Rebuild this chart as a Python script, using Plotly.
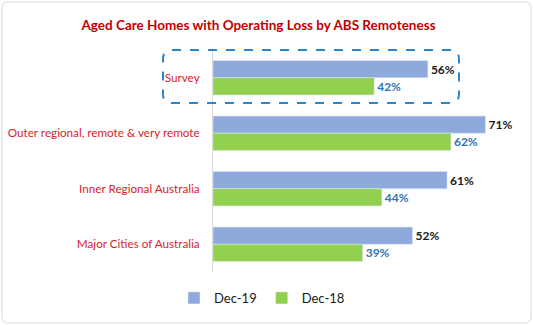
import plotly.graph_objects as go

categories = ["Survey", "Outer regional, remote & very remote", "Inner Regional Australia", "Major Cities of Australia"]
dec19 = [56, 71, 61, 52]
dec18 = [42, 62, 44, 39]
series_names = ["Dec-19", "Dec-18"]

FONT = "Lato"
L, R, T, B = 213, 13, 50, 53
W, H = 533, 325
pw, ph = W - L - R, H - T - B

def px_x(p):
    return (p - L) / pw

def px_y(p):
    return (H - B - p) / ph

fig = go.Figure()
fig.add_trace(go.Bar(
    y=categories, x=dec19, name=series_names[0], orientation="h",
    marker=dict(color="#8EA9DB"),
    texttemplate="<b>%{x}%</b>", textposition="outside",
    textfont=dict(color="#1a1a1a", size=12, family=FONT), cliponaxis=False,
))
fig.add_trace(go.Bar(
    y=categories, x=dec18, name=series_names[1], orientation="h",
    marker=dict(color="#92D050"),
    texttemplate="<b>%{x}%</b>", textposition="outside",
    textfont=dict(color="#2E75B6", size=12, family=FONT), cliponaxis=False,
))

# dashed rounded box around Survey
x0, x1 = px_x(163), px_x(459)
y0, y1 = px_y(103), px_y(50)
rx, ry = 9 / pw, 9 / ph
path = (f"M {x0+rx},{y1} L {x1-rx},{y1} Q {x1},{y1} {x1},{y1-ry} "
        f"L {x1},{y0+ry} Q {x1},{y0} {x1-rx},{y0} L {x0+rx},{y0} "
        f"Q {x0},{y0} {x0},{y0+ry} L {x0},{y1-ry} Q {x0},{y1} {x0+rx},{y1} Z")
fig.add_shape(type="path", path=path, xref="paper", yref="paper",
              line=dict(color="#2E86C8", width=2, dash="dash"))

# outer border
bx0, bx1 = px_x(2), px_x(W - 2)
by0, by1 = px_y(H - 2), px_y(2)
rx2, ry2 = 6 / pw, 6 / ph
path2 = (f"M {bx0+rx2},{by1} L {bx1-rx2},{by1} Q {bx1},{by1} {bx1},{by1-ry2} "
         f"L {bx1},{by0+ry2} Q {bx1},{by0} {bx1-rx2},{by0} L {bx0+rx2},{by0} "
         f"Q {bx0},{by0} {bx0},{by0+ry2} L {bx0},{by1-ry2} Q {bx0},{by1} {bx0+rx2},{by1} Z")
fig.add_shape(type="path", path=path2, xref="paper", yref="paper",
              line=dict(color="#D9D9D9", width=1))

fig.update_layout(
    width=W, height=H,
    margin=dict(l=L, r=R, t=T, b=B, autoexpand=False),
    paper_bgcolor="white", plot_bgcolor="white",
    barmode="group", bargap=0.38, bargroupgap=0.0,
    title=dict(text="<b>Aged Care Homes with Operating Loss by ABS Remoteness</b>",
               x=0.485, xanchor="center", y=1 - 25 / H, yanchor="middle",
               font=dict(family=FONT, size=13.5, color="#C00000")),
    xaxis=dict(range=[0, 80], visible=False, showgrid=False, automargin=False),
    yaxis=dict(autorange="reversed", showgrid=False, showline=True,
               linecolor="#D9D9D9", linewidth=1, ticks="", automargin=False,
               tickfont=dict(family=FONT, size=11.7, color="#D9232D"),
               ticklabelstandoff=10),
    legend=dict(orientation="h", x=px_x(262), xanchor="center",
                y=px_y(298), yanchor="middle",
                font=dict(family=FONT, size=13, color="#1a1a1a"),
                itemwidth=30, traceorder="normal"),
    showlegend=True,
)

fig.write_html("out.html")
